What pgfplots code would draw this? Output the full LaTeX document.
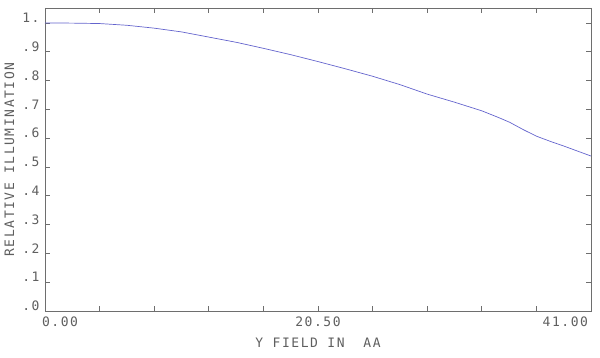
\documentclass[border=0pt]{standalone}
\usepackage{fontspec}
\setmainfont{DejaVu Sans Mono}[LetterSpace=12]
\usepackage{pgfplots}
\pgfplotsset{compat=1.18}
\definecolor{axgray}{RGB}{110,110,110}
\definecolor{txtgray}{RGB}{95,95,95}
\definecolor{curveblue}{RGB}{100,100,205}
\begin{document}
\fontsize{13bp}{15bp}\selectfont
\begin{tikzpicture}
\begin{axis}[
  scale only axis,
  width=546bp, height=303bp,
  xmin=0, xmax=41, ymin=0, ymax=1.052,
  axis line style={axgray, line width=0.8pt},
  tick style={axgray, line width=0.8pt},
  tick align=inside,
  major tick length=5bp,
  xtick={0,4.1,8.2,12.3,16.4,20.5,24.6,28.7,32.8,36.9,41},
  xticklabels={\makebox[0pt][l]{\hspace*{-3bp}0.00},,,,,20.50,,,,,\makebox[0pt][r]{41.00\hspace*{3bp}}},
  ytick={0,0.1,0.2,0.3,0.4,0.5,0.6,0.7,0.8,0.9,1.0},
  yticklabels={.0,.1,.2,.3,.4,.5,.6,.7,.8,.9,1.},
  /pgf/number format/assume math mode=true,
  ticklabel style={font=\fontsize{13bp}{15bp}\selectfont, text=txtgray},
  yticklabel style={yshift=5bp, xshift=-1bp},
  xticklabel style={yshift=-1bp},
  xlabel={Y FIELD IN\ \ AA},
  ylabel={RELATIVE ILLUMINATION},
  label style={font=\fontsize{13bp}{15bp}\selectfont, text=txtgray},
  xlabel style={yshift=-3bp},
  ylabel style={yshift=-1bp},
  clip=false,
]
\addplot[curveblue, line width=0.7pt] coordinates {
(0,1.000) (2.05,0.9995) (4.1,0.998) (6.15,0.992) (8.2,0.982) (10.25,0.969)
(12.3,0.951) (14.35,0.933) (16.4,0.912) (18.45,0.890) (20.5,0.866)
(22.55,0.841) (24.6,0.815) (26.65,0.786) (28.7,0.753) (30.75,0.725)
(32.8,0.695) (34.2,0.669) (34.9,0.655) (35.9,0.630) (36.9,0.607) (38.0,0.588) (39.0,0.572) (40.0,0.555) (41,0.538)
};
\end{axis}
\path[use as bounding box] ([shift={(-45bp,-47bp)}]current axis.south west) rectangle ([shift={(9bp,8bp)}]current axis.north east);
\end{tikzpicture}
\end{document}
